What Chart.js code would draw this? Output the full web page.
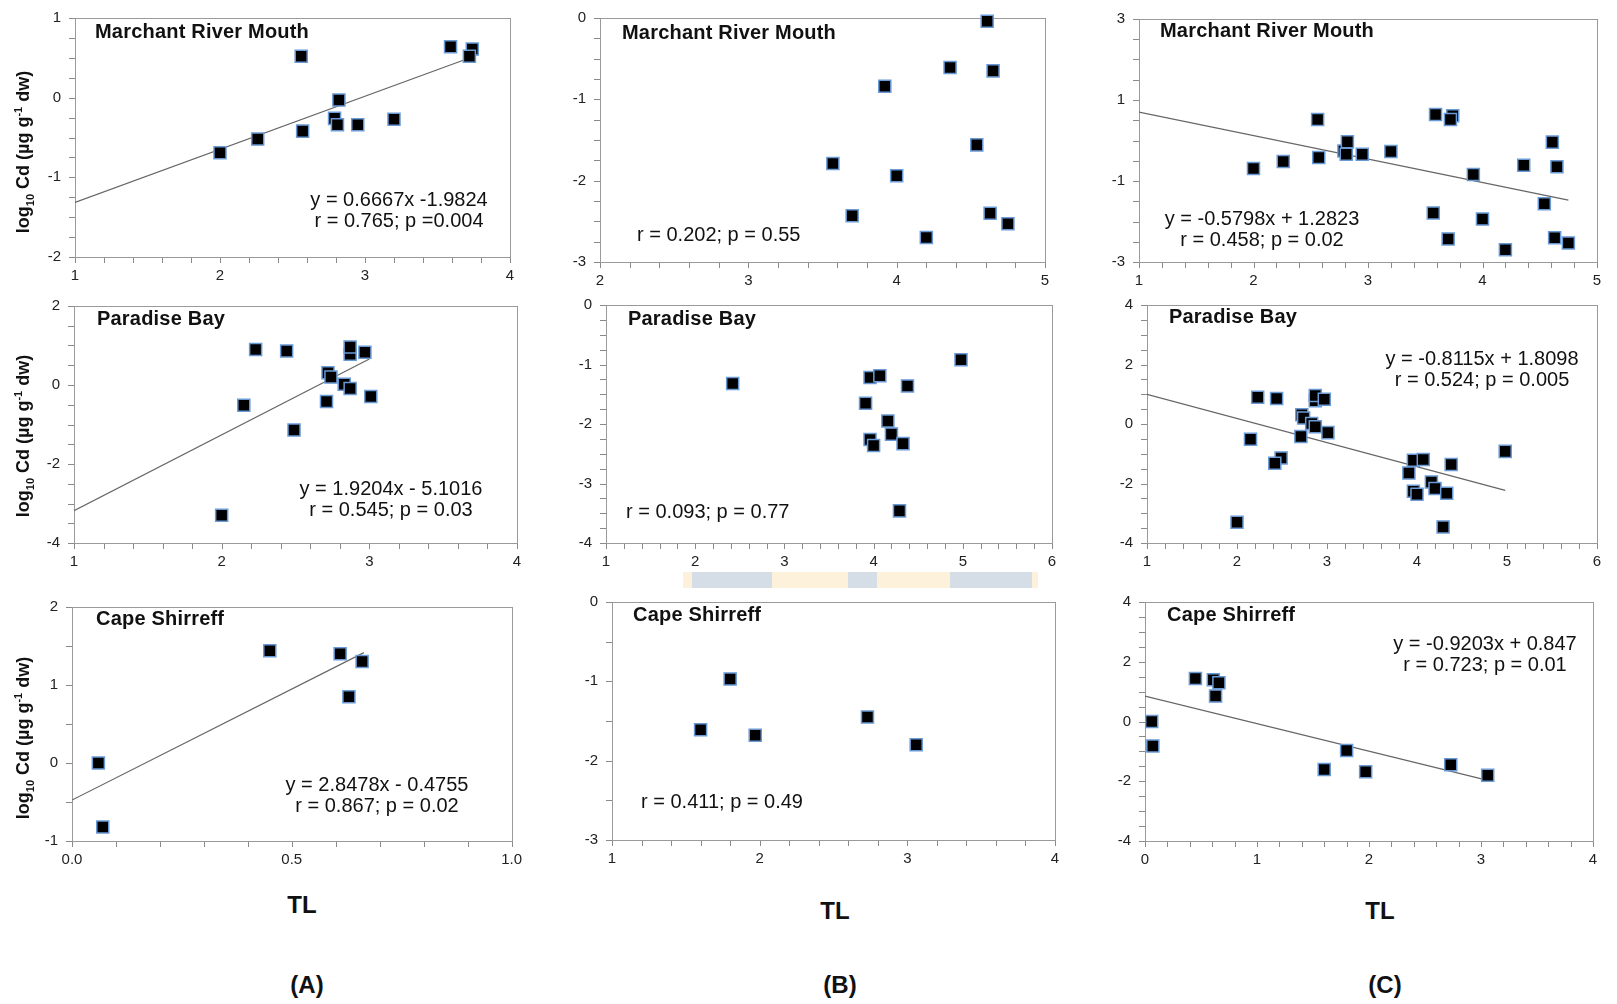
<!DOCTYPE html>
<html>
<head>
<meta charset="utf-8">
<script src="https://cdn.jsdelivr.net/npm/chart.js@4.4.0/dist/chart.umd.min.js"></script>
<style>
  html, body { margin: 0; padding: 0; background: #fff; }
  body { width: 1617px; height: 1004px; position: relative; overflow: hidden;
         font-family: "Liberation Sans", Arial, sans-serif; color: #111; }
  canvas { position: absolute; }
  .site { position: absolute; font-weight: bold; font-size: 20px; letter-spacing: 0.2px; line-height: 22px; white-space: nowrap; }
  .stats { position: absolute; font-size: 20px; line-height: 21px; white-space: nowrap; }
  .stats.c { transform: translateX(-50%); text-align: center; }
  .ytitle { position: absolute; font-weight: bold; font-size: 18px; white-space: nowrap;
            transform: translate(-50%, -50%) rotate(-90deg); }
  .ytitle sub, .ytitle sup { font-size: 11px; }
  .big { position: absolute; font-weight: bold; font-size: 24px; transform: translate(-50%, -50%); }
  .strip { position: absolute; left: 683px; top: 572px; width: 355px; height: 16px;
           background: linear-gradient(to right, #fdf1dc 0 9px, #d5dde7 9px 89px, #fdf1dc 89px 165px,
             #d5dde7 165px 194px, #fdf1dc 194px 267px, #d5dde7 267px 349px, #fdf1dc 349px); }
</style>
</head>
<body>
<div class="strip"></div>
<script>
//-------------------- DATA --------------------
// Marchant River Mouth
const marchantA_tl = [2.00, 2.26, 2.56, 2.57, 2.79, 2.81, 2.82, 2.95, 3.20, 3.59, 3.74, 3.72];
const marchantA_cd = [-0.69, -0.52, 0.52, -0.42, -0.26, -0.34, -0.03, -0.34, -0.27, 0.64, 0.61, 0.52];
const marchantB_tl = [4.61, 4.36, 4.65, 3.92, 4.54, 3.57, 4.00, 3.70, 4.63, 4.75, 4.20];
const marchantB_cd = [-0.04, -0.61, -0.65, -0.84, -1.56, -1.79, -1.94, -2.43, -2.40, -2.53, -2.70];
// Paradise Bay
const paradiseA_tl = [2.00, 2.15, 2.23, 2.44, 2.49, 2.71, 2.72, 2.74, 2.83, 2.87, 2.87, 2.87, 2.97, 3.01];
const paradiseA_cd = [-3.30, -0.51, 0.90, 0.86, -1.14, -0.42, 0.31, 0.20, 0.02, 0.78, 0.96, -0.09, 0.83, -0.29];
const paradiseB_tl = [2.42, 3.96, 4.07, 4.38, 3.91, 4.16, 4.20, 3.96, 4.00, 4.33, 4.29, 4.98];
const paradiseB_cd = [-1.32, -1.22, -1.19, -1.36, -1.65, -1.95, -2.17, -2.26, -2.36, -2.33, -3.46, -0.92];
// Cape Shirreff
const shirreffA_tl = [0.06, 0.07, 0.45, 0.61, 0.63, 0.66];
const shirreffA_cd = [0.00, -0.82, 1.44, 1.40, 0.85, 1.30];
const shirreffB_tl = [1.60, 1.80, 1.97, 2.73, 3.06];
const shirreffB_cd = [-1.61, -0.97, -1.68, -1.45, -1.80];

const siteNames = ['Marchant River Mouth', 'Paradise Bay', 'Cape Shirreff'];

// regression lines, panels A1 B1 C1 A2 B2 C2 A3 B3 C3
const fitSlope     = [0.6667, null, -0.5798, 1.9204, null, -0.8115, 2.8478, null, -0.9203];
const fitIntercept = [-1.9824, null, 1.2823, -5.1016, null, 1.8098, -0.4755, null, 0.847];
const fitFrom      = [1, null, 1, 1, null, 1, 0, null, 0];
const fitTo        = [3.72, null, 4.75, 3.00, null, 4.98, 0.664, null, 3.06];

const eqText = ['y = 0.6667x -1.9824', null, 'y = -0.5798x + 1.2823',
                'y = 1.9204x - 5.1016', null, 'y = -0.8115x + 1.8098',
                'y = 2.8478x - 0.4755', null, 'y = -0.9203x + 0.847'];
const statText = ['r = 0.765; p =0.004', 'r = 0.202; p = 0.55', 'r = 0.458; p = 0.02',
                  'r = 0.545; p = 0.03', 'r = 0.093; p = 0.77', 'r = 0.524; p = 0.005',
                  'r = 0.867; p = 0.02', 'r = 0.411; p = 0.49', 'r = 0.723; p = 0.01'];

// axes
const xMin = [1, 2, 1, 1, 1, 1, 0, 1, 0];
const xMax = [4, 5, 5, 4, 6, 6, 1, 4, 4];
const xMinor = [0.2, 0.2, 0.2, 0.2, 0.2, 0.2, 0.1, 0.2, 0.2];
const xLabelStep = [1, 1, 1, 1, 1, 1, 0.5, 1, 1];
const xDecimals = [0, 0, 0, 0, 0, 0, 1, 0, 0];
const yMin = [-2, -3, -3, -4, -4, -4, -1, -3, -4];
const yMax = [1, 0, 3, 2, 0, 4, 2, 0, 4];
const yMinor = [0.25, 0.25, 0.5, 0.5, 0.25, 0.5, 0.5, 0.5, 0.5];
const yLabelStep = [1, 1, 2, 2, 1, 2, 1, 1, 2];

//-------------------- LAYOUT --------------------
// plot area [left, top, right, bottom] in page pixels
const plotBox = [
  [75, 13, 510, 257], [600, 13, 1045, 262], [1139, 14, 1597, 262],
  [74, 301, 517, 543], [606, 300, 1052, 543], [1147, 300, 1597, 543],
  [72, 602, 512, 841], [612, 597, 1055, 840], [1145, 597, 1593, 841]
];
const titlePos = [[95, 31], [622, 32], [1160, 30], [97, 318], [628, 318], [1169, 316], [96, 618], [633, 614], [1167, 614]];
// centred blocks give [centerX, firstLineY]; single-line ones give [left, y]
const statPos = [[399, 199], [637, 234], [1262, 218], [391, 488], [626, 511], [1482, 358], [377, 784], [641, 801], [1485, 643]];

const FONT = '"Liberation Sans", Arial, sans-serif';
const AXIS_GREY = '#9a9a9a';
const TICK_GREY = '#8a8a8a';
const TICK_LEN = 6;
const Y_W = 58, X_H = 34, PAD_T = 12, PAD_R = 14;

// plot frame on all four sides plus outward tick marks at every (minor) tick
const framePlugin = {
  id: 'frame',
  beforeDatasetsDraw(chart) {
    const { ctx, chartArea: a } = chart;
    const xs = chart.scales.x, ys = chart.scales.y;
    const L = Math.round(a.left), B = Math.round(a.bottom);
    ctx.save();
    ctx.fillStyle = TICK_GREY;
    for (let k = 0; k < xs.ticks.length; k++) {
      const px = Math.round(xs.getPixelForTick(k));
      ctx.fillRect(px, B, 1, TICK_LEN);
    }
    for (let k = 0; k < ys.ticks.length; k++) {
      const py = Math.round(ys.getPixelForTick(k));
      ctx.fillRect(L - TICK_LEN, py, TICK_LEN, 1);
    }
    ctx.lineWidth = 1;
    ctx.strokeStyle = AXIS_GREY;
    ctx.strokeRect(Math.round(a.left) + 0.5, Math.round(a.top) + 0.5,
                   Math.round(a.right - a.left), Math.round(a.bottom - a.top));
    ctx.restore();
  }
};

function labelCb(min, step, dec) {
  return function (v) {
    const k = (v - min) / step;
    return Math.abs(k - Math.round(k)) < 1e-6 ? Number(v).toFixed(dec) : '';
  };
}

const colA = [[marchantA_tl, marchantA_cd], [paradiseA_tl, paradiseA_cd], [shirreffA_tl, shirreffA_cd]];
const colB = [[marchantB_tl, marchantB_cd], [paradiseB_tl, paradiseB_cd], [shirreffB_tl, shirreffB_cd]];

//-------------------- RENDER --------------------
for (let i = 0; i < 9; i++) {
  const row = Math.floor(i / 3), col = i % 3;
  let xs, ys;
  if (col === 0) { [xs, ys] = colA[row]; }
  else if (col === 1) { [xs, ys] = colB[row]; }
  else { xs = colA[row][0].concat(colB[row][0]); ys = colA[row][1].concat(colB[row][1]); }

  const datasets = [{
    type: 'scatter',
    data: xs.map((x, j) => ({ x: x, y: ys[j] })),
    pointStyle: 'rect',
    pointRadius: 8.5,
    backgroundColor: '#000',
    borderColor: '#6a9ad6',
    borderWidth: 1.5,
    clip: 12
  }];
  if (fitSlope[i] !== null) {
    datasets.push({
      type: 'line',
      data: [fitFrom[i], fitTo[i]].map(x => ({ x: x, y: fitSlope[i] * x + fitIntercept[i] })),
      borderColor: '#666',
      borderWidth: 1.2,
      pointRadius: 0,
      fill: false
    });
  }

  const [l, t, r, b] = plotBox[i];
  const cv = document.createElement('canvas');
  cv.width = r - l + Y_W + PAD_R;
  cv.height = b - t + PAD_T + X_H;
  cv.style.left = (l - Y_W) + 'px';
  cv.style.top = (t - PAD_T) + 'px';
  document.body.appendChild(cv);

  new Chart(cv, {
    type: 'scatter',
    data: { datasets },
    plugins: [framePlugin],
    options: {
      responsive: false,
      animation: false,
      events: [],
      layout: { padding: { top: PAD_T, right: PAD_R, bottom: 0, left: 0 } },
      plugins: { legend: { display: false }, tooltip: { enabled: false } },
      scales: {
        x: {
          type: 'linear', min: xMin[i], max: xMax[i],
          afterFit: s => { s.height = X_H; },
          border: { display: false },
          grid: { drawOnChartArea: false, drawTicks: true, tickLength: TICK_LEN, color: 'rgba(0,0,0,0)' },
          ticks: { stepSize: xMinor[i], autoSkip: false, maxRotation: 0, padding: 4, color: '#222',
                   font: { family: FONT, size: 15 }, callback: labelCb(xMin[i], xLabelStep[i], xDecimals[i]) }
        },
        y: {
          type: 'linear', min: yMin[i], max: yMax[i],
          afterFit: s => { s.width = Y_W; },
          border: { display: false },
          grid: { drawOnChartArea: false, drawTicks: true, tickLength: TICK_LEN, color: 'rgba(0,0,0,0)' },
          ticks: { stepSize: yMinor[i], autoSkip: false, padding: 8, color: '#222',
                   font: { family: FONT, size: 15 }, callback: labelCb(yMin[i], yLabelStep[i], 0) }
        }
      }
    }
  });

  // site name
  const st = document.createElement('div');
  st.className = 'site';
  st.textContent = siteNames[row];
  st.style.left = titlePos[i][0] + 'px';
  st.style.top = (titlePos[i][1] - 11) + 'px';
  document.body.appendChild(st);

  // equation / statistics
  const sd = document.createElement('div');
  if (eqText[i]) {
    sd.className = 'stats c';
    sd.innerHTML = eqText[i] + '<br>' + statText[i];
  } else {
    sd.className = 'stats';
    sd.textContent = statText[i];
  }
  sd.style.left = statPos[i][0] + 'px';
  sd.style.top = (statPos[i][1] - 10.5) + 'px';
  document.body.appendChild(sd);
}

// y-axis titles (column A) and bottom labels
const yTitleY = [152, 436, 738];
yTitleY.forEach(y => {
  const d = document.createElement('div');
  d.className = 'ytitle';
  d.innerHTML = 'log<sub>10</sub> Cd (µg g<sup>-1</sup> dw)';
  d.style.left = '24px';
  d.style.top = y + 'px';
  document.body.appendChild(d);
});
const bottomLabels = [['TL', 302, 905], ['TL', 835, 911], ['TL', 1380, 911],
                      ['(A)', 307, 985], ['(B)', 840, 985], ['(C)', 1385, 985]];
bottomLabels.forEach(([txt, x, y]) => {
  const d = document.createElement('div');
  d.className = 'big';
  d.textContent = txt;
  d.style.left = x + 'px';
  d.style.top = y + 'px';
  document.body.appendChild(d);
});
</script>
</body>
</html>
